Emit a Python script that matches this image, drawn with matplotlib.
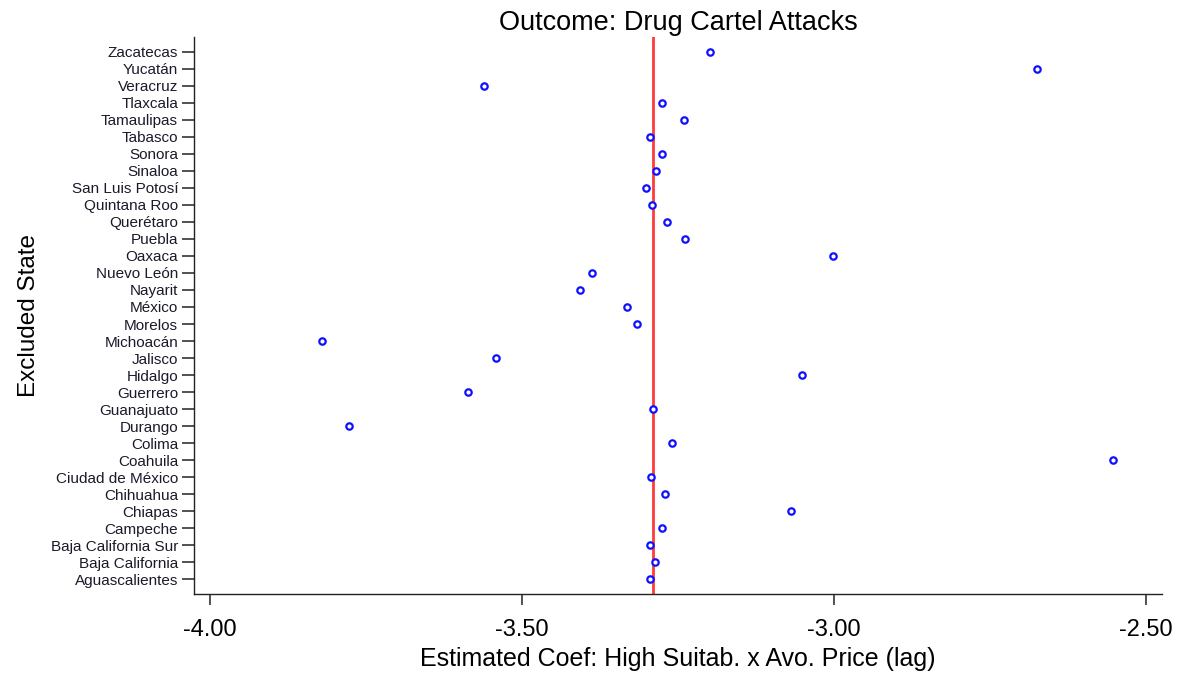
import matplotlib
matplotlib.use("Agg")
import matplotlib.pyplot as plt

states = ["Aguascalientes", "Baja California", "Baja California Sur", "Campeche",
          "Chiapas", "Chihuahua", "Ciudad de México", "Coahuila", "Colima",
          "Durango", "Guanajuato", "Guerrero", "Hidalgo", "Jalisco", "Michoacán",
          "Morelos", "México", "Nayarit", "Nuevo León", "Oaxaca", "Puebla",
          "Querétaro", "Quintana Roo", "San Luis Potosí", "Sinaloa", "Sonora",
          "Tabasco", "Tamaulipas", "Tlaxcala", "Veracruz", "Yucatán", "Zacatecas"]
coefs = [-3.295, -3.287, -3.295, -3.276,
         -3.069, -3.271, -3.293, -2.553, -3.260,
         -3.777, -3.290, -3.587, -3.051, -3.542, -3.821,
         -3.316, -3.332, -3.407, -3.388, -3.002, -3.239,
         -3.268, -3.292, -3.301, -3.285, -3.276,
         -3.295, -3.240, -3.276, -3.561, -2.675, -3.199]
baseline = -3.290
xticks = [-4.00, -3.50, -3.00, -2.50]
xticklabels = ["-4.00", "-3.50", "-3.00", "-2.50"]

plt.rcParams['font.family'] = ['Liberation Sans', 'DejaVu Sans']

fig = plt.figure(figsize=(11.87, 6.75), dpi=100)
ax = fig.add_axes([194/1187, 1 - 594/675, (1162 - 194)/1187, (594 - 37)/675])

ypos = list(range(len(states)))
ax.axvline(baseline, color='#ff3b3b', lw=2, zorder=1)
ax.plot(coefs, ypos, linestyle='none', marker='o', ms=4.6, mew=1.6,
        mec='#1010ff', mfc='white', zorder=3)

ax.set_xlim(-4.026, -2.474)
ax.set_ylim(-0.88, len(states) - 1 + 0.88)
ax.set_yticks(ypos)
ax.set_yticklabels(states, fontsize=11, color='#1a1a2a')
ax.set_xticks(xticks)
ax.set_xticklabels(xticklabels, fontsize=17)

for s in ['top', 'right']:
    ax.spines[s].set_visible(False)
for s in ['left', 'bottom']:
    ax.spines[s].set_linewidth(1.0)
    ax.spines[s].set_color('#222222')
ax.tick_params(axis='y', length=9, width=1.2, pad=2.5, color='#333333')
ax.tick_params(axis='x', length=8, width=1.2, pad=10, color='#333333')

ax.set_title("Outcome: Drug Cartel Attacks", fontsize=19.5, pad=5)
ax.set_xlabel("Estimated Coef: High Suitab. x Avo. Price (lag)", fontsize=18, labelpad=4)
ax.set_ylabel("Excluded State", fontsize=17.5, labelpad=8)

fig.savefig("out.png", dpi=100)
